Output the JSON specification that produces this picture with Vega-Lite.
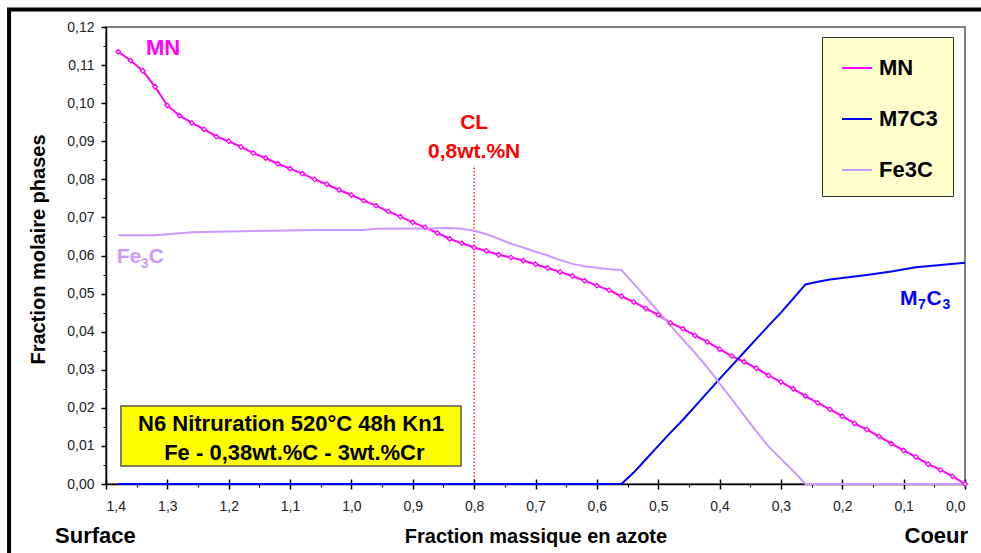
{
  "$schema": "https://vega.github.io/schema/vega-lite/v6.json",
  "width": 859,
  "height": 457,
  "autosize": "none",
  "padding": {"left": 106, "top": 27, "right": 16, "bottom": 69},
  "background": "white",
  "config": {
    "font": "Liberation Sans",
    "view": {"stroke": "#808080", "strokeWidth": 2},
    "axis": {"grid": false}
  },
  "datasets": {
    "one": [{}],
    "phases": [
      {"series": "MN", "x": 1.38, "y": 0.1135}, {"series": "MN", "x": 1.36, "y": 0.1112}, {"series": "MN", "x": 1.34, "y": 0.1085}, {"series": "MN", "x": 1.32, "y": 0.1043},
      {"series": "MN", "x": 1.30, "y": 0.0994}, {"series": "MN", "x": 1.28, "y": 0.0967}, {"series": "MN", "x": 1.26, "y": 0.0948}, {"series": "MN", "x": 1.24, "y": 0.0931},
      {"series": "MN", "x": 1.22, "y": 0.0912}, {"series": "MN", "x": 1.20, "y": 0.0900}, {"series": "MN", "x": 1.18, "y": 0.0885}, {"series": "MN", "x": 1.16, "y": 0.0869},
      {"series": "MN", "x": 1.14, "y": 0.0856}, {"series": "MN", "x": 1.12, "y": 0.0841}, {"series": "MN", "x": 1.10, "y": 0.0828}, {"series": "MN", "x": 1.08, "y": 0.0815},
      {"series": "MN", "x": 1.06, "y": 0.0800}, {"series": "MN", "x": 1.04, "y": 0.0787}, {"series": "MN", "x": 1.02, "y": 0.0772}, {"series": "MN", "x": 1.00, "y": 0.0759},
      {"series": "MN", "x": 0.98, "y": 0.0744}, {"series": "MN", "x": 0.96, "y": 0.0731}, {"series": "MN", "x": 0.94, "y": 0.0716}, {"series": "MN", "x": 0.92, "y": 0.0702},
      {"series": "MN", "x": 0.90, "y": 0.0687}, {"series": "MN", "x": 0.88, "y": 0.0674}, {"series": "MN", "x": 0.86, "y": 0.0659}, {"series": "MN", "x": 0.84, "y": 0.0644},
      {"series": "MN", "x": 0.82, "y": 0.0632}, {"series": "MN", "x": 0.80, "y": 0.0621}, {"series": "MN", "x": 0.78, "y": 0.0612}, {"series": "MN", "x": 0.76, "y": 0.0602},
      {"series": "MN", "x": 0.74, "y": 0.0595}, {"series": "MN", "x": 0.72, "y": 0.0587}, {"series": "MN", "x": 0.70, "y": 0.0577}, {"series": "MN", "x": 0.68, "y": 0.0567},
      {"series": "MN", "x": 0.66, "y": 0.0557}, {"series": "MN", "x": 0.64, "y": 0.0546}, {"series": "MN", "x": 0.62, "y": 0.0534}, {"series": "MN", "x": 0.60, "y": 0.0521},
      {"series": "MN", "x": 0.58, "y": 0.0509}, {"series": "MN", "x": 0.56, "y": 0.0493}, {"series": "MN", "x": 0.54, "y": 0.0478}, {"series": "MN", "x": 0.52, "y": 0.0461},
      {"series": "MN", "x": 0.50, "y": 0.0444}, {"series": "MN", "x": 0.48, "y": 0.0423}, {"series": "MN", "x": 0.46, "y": 0.0408}, {"series": "MN", "x": 0.44, "y": 0.0390},
      {"series": "MN", "x": 0.42, "y": 0.0373}, {"series": "MN", "x": 0.40, "y": 0.0354}, {"series": "MN", "x": 0.38, "y": 0.0336}, {"series": "MN", "x": 0.36, "y": 0.0321},
      {"series": "MN", "x": 0.34, "y": 0.0304}, {"series": "MN", "x": 0.32, "y": 0.0285}, {"series": "MN", "x": 0.30, "y": 0.0268}, {"series": "MN", "x": 0.28, "y": 0.0250},
      {"series": "MN", "x": 0.26, "y": 0.0231}, {"series": "MN", "x": 0.24, "y": 0.0213}, {"series": "MN", "x": 0.22, "y": 0.0196}, {"series": "MN", "x": 0.20, "y": 0.0178},
      {"series": "MN", "x": 0.18, "y": 0.0159}, {"series": "MN", "x": 0.16, "y": 0.0143}, {"series": "MN", "x": 0.14, "y": 0.0125}, {"series": "MN", "x": 0.12, "y": 0.0106},
      {"series": "MN", "x": 0.10, "y": 0.0088}, {"series": "MN", "x": 0.08, "y": 0.0071}, {"series": "MN", "x": 0.06, "y": 0.0052}, {"series": "MN", "x": 0.04, "y": 0.0037},
      {"series": "MN", "x": 0.02, "y": 0.0020}, {"series": "MN", "x": 0.00, "y": 0.0000},
      {"series": "M7C3", "x": 1.38, "y": 0}, {"series": "M7C3", "x": 0.56, "y": 0}, {"series": "M7C3", "x": 0.54, "y": 0.0030}, {"series": "M7C3", "x": 0.52, "y": 0.0065},
      {"series": "M7C3", "x": 0.50, "y": 0.0100}, {"series": "M7C3", "x": 0.48, "y": 0.0135}, {"series": "M7C3", "x": 0.46, "y": 0.0168}, {"series": "M7C3", "x": 0.44, "y": 0.0204},
      {"series": "M7C3", "x": 0.42, "y": 0.0240}, {"series": "M7C3", "x": 0.40, "y": 0.0276}, {"series": "M7C3", "x": 0.38, "y": 0.0311}, {"series": "M7C3", "x": 0.36, "y": 0.0346},
      {"series": "M7C3", "x": 0.34, "y": 0.0381}, {"series": "M7C3", "x": 0.32, "y": 0.0416}, {"series": "M7C3", "x": 0.30, "y": 0.0450}, {"series": "M7C3", "x": 0.28, "y": 0.0487},
      {"series": "M7C3", "x": 0.26, "y": 0.0524}, {"series": "M7C3", "x": 0.24, "y": 0.0531}, {"series": "M7C3", "x": 0.22, "y": 0.0537}, {"series": "M7C3", "x": 0.20, "y": 0.0541},
      {"series": "M7C3", "x": 0.16, "y": 0.0549}, {"series": "M7C3", "x": 0.12, "y": 0.0558}, {"series": "M7C3", "x": 0.08, "y": 0.0569}, {"series": "M7C3", "x": 0.04, "y": 0.0575},
      {"series": "M7C3", "x": 0.00, "y": 0.0581},
      {"series": "Fe3C", "x": 1.38, "y": 0.0653}, {"series": "Fe3C", "x": 1.32, "y": 0.0653}, {"series": "Fe3C", "x": 1.26, "y": 0.0661}, {"series": "Fe3C", "x": 1.18, "y": 0.0664},
      {"series": "Fe3C", "x": 1.08, "y": 0.0666}, {"series": "Fe3C", "x": 1.06, "y": 0.0667}, {"series": "Fe3C", "x": 0.98, "y": 0.0667}, {"series": "Fe3C", "x": 0.96, "y": 0.0670},
      {"series": "Fe3C", "x": 0.88, "y": 0.0671}, {"series": "Fe3C", "x": 0.84, "y": 0.0672}, {"series": "Fe3C", "x": 0.82, "y": 0.0670}, {"series": "Fe3C", "x": 0.80, "y": 0.0665},
      {"series": "Fe3C", "x": 0.78, "y": 0.0656}, {"series": "Fe3C", "x": 0.76, "y": 0.0644}, {"series": "Fe3C", "x": 0.74, "y": 0.0631}, {"series": "Fe3C", "x": 0.72, "y": 0.0621},
      {"series": "Fe3C", "x": 0.70, "y": 0.0610}, {"series": "Fe3C", "x": 0.68, "y": 0.0600}, {"series": "Fe3C", "x": 0.66, "y": 0.0588}, {"series": "Fe3C", "x": 0.64, "y": 0.0578},
      {"series": "Fe3C", "x": 0.62, "y": 0.0572}, {"series": "Fe3C", "x": 0.60, "y": 0.0568}, {"series": "Fe3C", "x": 0.58, "y": 0.0564}, {"series": "Fe3C", "x": 0.56, "y": 0.0562},
      {"series": "Fe3C", "x": 0.54, "y": 0.0526}, {"series": "Fe3C", "x": 0.52, "y": 0.0490}, {"series": "Fe3C", "x": 0.50, "y": 0.0453}, {"series": "Fe3C", "x": 0.48, "y": 0.0416},
      {"series": "Fe3C", "x": 0.46, "y": 0.0380}, {"series": "Fe3C", "x": 0.44, "y": 0.0344}, {"series": "Fe3C", "x": 0.42, "y": 0.0306}, {"series": "Fe3C", "x": 0.40, "y": 0.0264},
      {"series": "Fe3C", "x": 0.38, "y": 0.0222}, {"series": "Fe3C", "x": 0.36, "y": 0.0180}, {"series": "Fe3C", "x": 0.34, "y": 0.0138}, {"series": "Fe3C", "x": 0.32, "y": 0.0098},
      {"series": "Fe3C", "x": 0.30, "y": 0.0066}, {"series": "Fe3C", "x": 0.28, "y": 0.0034}, {"series": "Fe3C", "x": 0.26, "y": 0.0000}, {"series": "Fe3C", "x": 0.00, "y": 0.0000}
    ]
  },
  "resolve": {"axis": {"x": "independent", "y": "independent"}},
  "layer": [
    {
      "data": {"name": "one"},
      "mark": {"type": "rect", "fill": "#FFFF00", "stroke": "#555555", "strokeWidth": 1.5, "clip": false},
      "encoding": {
        "x": {"datum": 1.3756, "type": "quantitative", "axis": null},
        "x2": {"datum": 0.8214},
        "y": {"datum": 0.0205, "type": "quantitative", "axis": null},
        "y2": {"datum": 0.0047}
      }
    },
    {
      "data": {"name": "one"},
      "mark": {"type": "rule", "color": "#FF0000", "strokeWidth": 1.2, "strokeDash": [1.5, 2]},
      "encoding": {
        "x": {
          "datum": 0.8, "type": "quantitative",
          "axis": {
            "orient": "bottom",
            "values": [0, 0.1, 0.2, 0.3, 0.4, 0.5, 0.6, 0.7, 0.8, 0.9, 1.0, 1.1, 1.2, 1.3, 1.4],
            "labels": false, "domain": false, "title": null,
            "tickSize": -5, "tickColor": "black", "tickWidth": 1.5
          }
        },
        "y": {"datum": 0, "type": "quantitative", "axis": null},
        "y2": {"datum": 0.0837}
      }
    },
    {
      "data": {"name": "phases"},
      "mark": {"type": "line", "strokeWidth": 2},
      "encoding": {
        "x": {
          "field": "x", "type": "quantitative",
          "scale": {"domain": [0, 1.4], "reverse": true, "nice": false, "zero": false},
          "axis": {
            "orient": "bottom",
            "values": [0, 0.1, 0.2, 0.3, 0.4, 0.5, 0.6, 0.7, 0.8, 0.9, 1.0, 1.1, 1.2, 1.3, 1.4],
            "labelExpr": "replace(format(datum.value, '.1f'), '.', ',')",
            "labelFontSize": 14, "labelColor": "#222", "labelPadding": 10,
            "tickSize": 5, "tickColor": "black", "tickWidth": 1.5,
            "domainColor": "black", "domainWidth": 1.5,
            "title": "Fraction massique en azote",
            "titleFontSize": 20, "titleFontWeight": "bold", "titleColor": "black",
            "titleY": 58, "titleBaseline": "alphabetic"
          }
        },
        "y": {
          "field": "y", "type": "quantitative",
          "scale": {"domain": [0, 0.12], "nice": false, "zero": false},
          "axis": {
            "orient": "left",
            "values": [0, 0.01, 0.02, 0.03, 0.04, 0.05, 0.06, 0.07, 0.08, 0.09, 0.1, 0.11, 0.12],
            "labelExpr": "replace(format(datum.value, '.2f'), '.', ',')",
            "labelFontSize": 14, "labelColor": "#222", "labelPadding": 7,
            "tickSize": 5, "tickColor": "black", "tickWidth": 1.5,
            "domainColor": "black", "domainWidth": 1.5,
            "title": "Fraction molaire phases",
            "titleFontSize": 20, "titleFontWeight": "bold", "titleColor": "black",
            "titleX": -68, "titleY": 222, "titleAngle": -90, "titleAlign": "center", "titleBaseline": "middle"
          }
        },
        "color": {
          "field": "series", "type": "nominal",
          "scale": {"domain": ["MN", "M7C3", "Fe3C"], "range": ["#FF00FF", "#0000FF", "#CC99FF"]},
          "legend": {
            "orient": "none", "legendX": 716, "legendY": 10,
            "title": null,
            "symbolType": "stroke", "symbolSize": 900, "symbolStrokeWidth": 2,
            "labelFontSize": 22, "labelFontWeight": "bold", "labelColor": "black", "labelOffset": 6,
            "fillColor": "#FFFFCC", "strokeColor": "#333333",
            "padding": 15, "rowPadding": 24, "symbolOffset": 4
          }
        },
        "order": {"field": "x", "type": "quantitative", "sort": "descending"}
      }
    },
    {
      "data": {"name": "phases"},
      "transform": [{"filter": "datum.series === 'MN'"}],
      "mark": {"type": "point", "filled": true, "fill": "white", "stroke": "#FF00FF", "strokeWidth": 1.2, "size": 22, "opacity": 1},
      "encoding": {
        "x": {
          "field": "x", "type": "quantitative",
          "axis": {
            "orient": "bottom",
            "values": [0.05, 0.15, 0.25, 0.35, 0.45, 0.55, 0.65, 0.75, 0.85, 0.95, 1.05, 1.15, 1.25, 1.35],
            "labels": false, "domain": false, "title": null,
            "tickSize": 3, "tickColor": "black", "tickWidth": 1
          }
        },
        "y": {
          "field": "y", "type": "quantitative",
          "axis": {
            "orient": "left",
            "values": [0.005, 0.015, 0.025, 0.035, 0.045, 0.055, 0.065, 0.075, 0.085, 0.095, 0.105, 0.115],
            "labels": false, "domain": false, "title": null,
            "tickSize": 3, "tickColor": "black", "tickWidth": 1
          }
        },
        "shape": {
          "field": "series", "type": "nominal",
          "scale": {"domain": ["MN"], "range": ["diamond"]},
          "legend": {
            "orient": "none", "legendX": 747.6, "legendY": 34.6,
            "title": null, "labelExpr": "''", "labelFontSize": 1, "labelOffset": 0,
            "symbolFillColor": "white", "symbolStrokeColor": "#FF00FF", "symbolStrokeWidth": 1.2, "symbolSize": 22,
            "padding": 0
          }
        }
      }
    },
    {
      "data": {"name": "one"},
      "mark": {"type": "text", "text": "N6 Nitruration 520°C 48h Kn1", "fontSize": 22, "fontWeight": "bold", "color": "black", "align": "center", "baseline": "alphabetic", "clip": false},
      "encoding": {
        "x": {"datum": 1.0985, "type": "quantitative", "axis": null},
        "y": {"datum": 0.0139, "type": "quantitative", "axis": null}
      }
    },
    {
      "data": {"name": "one"},
      "mark": {"type": "text", "text": "Fe - 0,38wt.%C - 3wt.%Cr", "fontSize": 22, "fontWeight": "bold", "color": "black", "align": "center", "baseline": "alphabetic", "clip": false},
      "encoding": {
        "x": {"datum": 1.093, "type": "quantitative", "axis": null},
        "y": {"datum": 0.0063, "type": "quantitative", "axis": null}
      }
    },
    {
      "data": {"name": "one"},
      "mark": {"type": "text", "text": "MN", "fontSize": 22, "fontWeight": "bold", "color": "#FF00FF", "align": "center", "baseline": "alphabetic", "clip": false},
      "encoding": {
        "x": {"datum": 1.307, "type": "quantitative", "axis": null},
        "y": {"datum": 0.1126, "type": "quantitative", "axis": null}
      }
    },
    {
      "data": {"name": "one"},
      "mark": {"type": "text", "text": "Fe", "fontSize": 21, "fontWeight": "bold", "color": "#CC99FF", "align": "left", "baseline": "alphabetic", "clip": false},
      "encoding": {
        "x": {"datum": 1.3826, "type": "quantitative", "axis": null},
        "y": {"datum": 0.0579, "type": "quantitative", "axis": null}
      }
    },
    {
      "data": {"name": "one"},
      "mark": {"type": "text", "text": "3", "fontSize": 14, "fontWeight": "bold", "color": "#CC99FF", "align": "left", "baseline": "alphabetic", "dx": 24, "dy": 5, "clip": false},
      "encoding": {
        "x": {"datum": 1.3826, "type": "quantitative", "axis": null},
        "y": {"datum": 0.0579, "type": "quantitative", "axis": null}
      }
    },
    {
      "data": {"name": "one"},
      "mark": {"type": "text", "text": "C", "fontSize": 21, "fontWeight": "bold", "color": "#CC99FF", "align": "left", "baseline": "alphabetic", "dx": 32, "clip": false},
      "encoding": {
        "x": {"datum": 1.3826, "type": "quantitative", "axis": null},
        "y": {"datum": 0.0579, "type": "quantitative", "axis": null}
      }
    },
    {
      "data": {"name": "one"},
      "mark": {"type": "text", "text": "M", "fontSize": 21, "fontWeight": "bold", "color": "#0000FF", "align": "left", "baseline": "alphabetic", "clip": false},
      "encoding": {
        "x": {"datum": 0.1059, "type": "quantitative", "axis": null},
        "y": {"datum": 0.047, "type": "quantitative", "axis": null}
      }
    },
    {
      "data": {"name": "one"},
      "mark": {"type": "text", "text": "7", "fontSize": 14, "fontWeight": "bold", "color": "#0000FF", "align": "left", "baseline": "alphabetic", "dx": 18, "dy": 4, "clip": false},
      "encoding": {
        "x": {"datum": 0.1059, "type": "quantitative", "axis": null},
        "y": {"datum": 0.047, "type": "quantitative", "axis": null}
      }
    },
    {
      "data": {"name": "one"},
      "mark": {"type": "text", "text": "C", "fontSize": 21, "fontWeight": "bold", "color": "#0000FF", "align": "left", "baseline": "alphabetic", "dx": 26.5, "clip": false},
      "encoding": {
        "x": {"datum": 0.1059, "type": "quantitative", "axis": null},
        "y": {"datum": 0.047, "type": "quantitative", "axis": null}
      }
    },
    {
      "data": {"name": "one"},
      "mark": {"type": "text", "text": "3", "fontSize": 14, "fontWeight": "bold", "color": "#0000FF", "align": "left", "baseline": "alphabetic", "dx": 42.5, "dy": 4, "clip": false},
      "encoding": {
        "x": {"datum": 0.1059, "type": "quantitative", "axis": null},
        "y": {"datum": 0.047, "type": "quantitative", "axis": null}
      }
    },
    {
      "data": {"name": "one"},
      "mark": {"type": "text", "text": "CL", "fontSize": 21, "fontWeight": "bold", "color": "#FF0000", "align": "center", "baseline": "alphabetic", "clip": false},
      "encoding": {
        "x": {"datum": 0.8, "type": "quantitative", "axis": null},
        "y": {"datum": 0.0933, "type": "quantitative", "axis": null}
      }
    },
    {
      "data": {"name": "one"},
      "mark": {"type": "text", "text": "0,8wt.%N", "fontSize": 21, "fontWeight": "bold", "color": "#FF0000", "align": "center", "baseline": "alphabetic", "clip": false},
      "encoding": {
        "x": {"datum": 0.8, "type": "quantitative", "axis": null},
        "y": {"datum": 0.0855, "type": "quantitative", "axis": null}
      }
    },
    {
      "data": {"name": "one"},
      "mark": {"type": "text", "text": "Surface", "fontSize": 22, "fontWeight": "bold", "color": "black", "align": "left", "baseline": "alphabetic", "clip": false},
      "encoding": {
        "x": {"datum": 1.483, "type": "quantitative", "axis": null},
        "y": {"datum": -0.0155, "type": "quantitative", "axis": null}
      }
    },
    {
      "data": {"name": "one"},
      "mark": {"type": "text", "text": "Coeur", "fontSize": 22, "fontWeight": "bold", "color": "black", "align": "right", "baseline": "alphabetic", "clip": false},
      "encoding": {
        "x": {"datum": -0.005, "type": "quantitative", "axis": null},
        "y": {"datum": -0.0155, "type": "quantitative", "axis": null}
      }
    },
    {
      "data": {"name": "one"},
      "mark": {"type": "rect", "filled": false, "stroke": "black", "strokeWidth": 4, "clip": false},
      "encoding": {
        "x": {"datum": 1.558, "type": "quantitative", "axis": null},
        "x2": {"datum": -0.1},
        "y": {"datum": 0.1246, "type": "quantitative", "axis": null},
        "y2": {"datum": -0.05}
      }
    }
  ]
}
